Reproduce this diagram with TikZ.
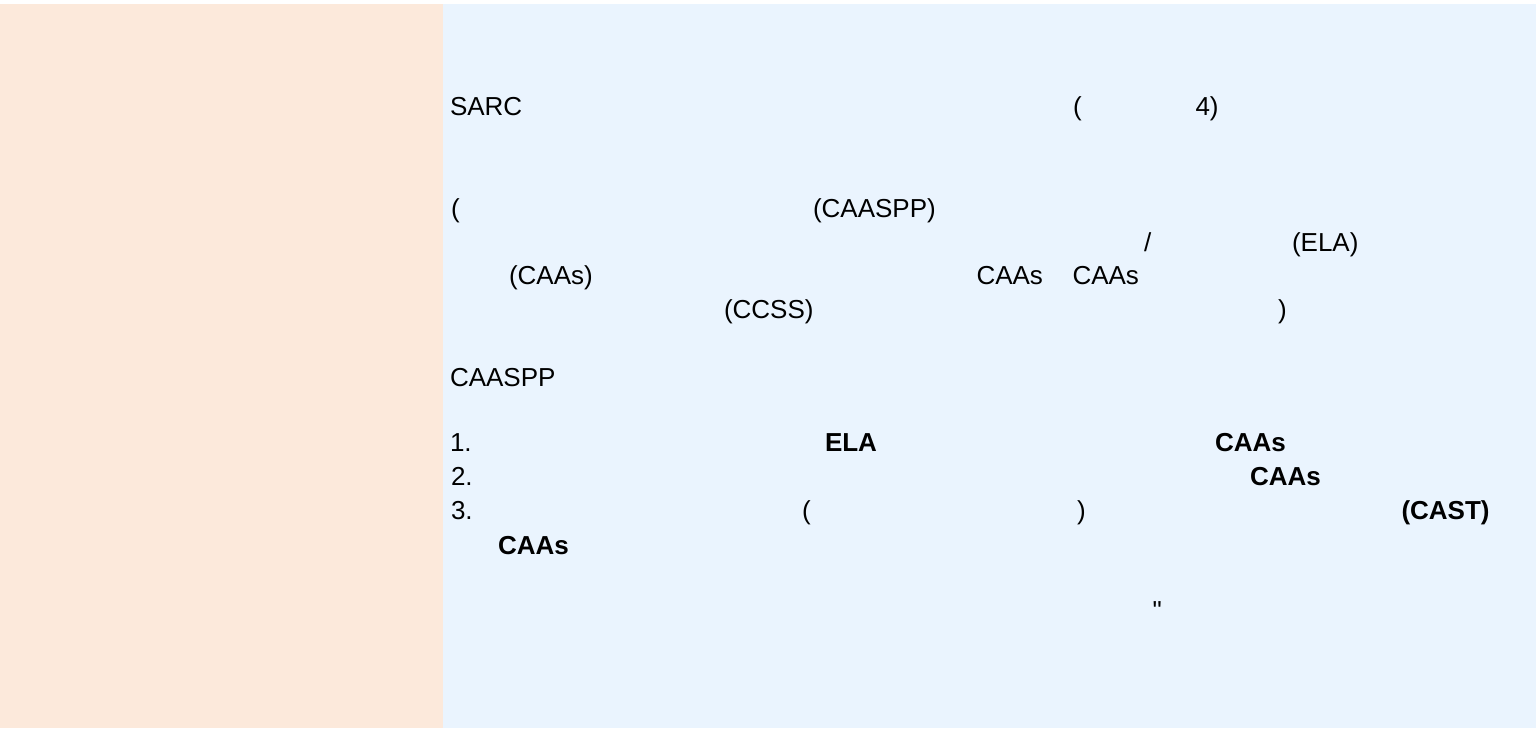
\documentclass[tikz,border=0pt]{standalone}
\usepackage{fontspec}
\setmainfont{Liberation Sans}
\newfontfamily\rawfont{Liberation Sans}
\definecolor{peach}{HTML}{FCE9DB}
\definecolor{paleblue}{HTML}{EAF4FE}
\tikzset{
  txt/.style={anchor=base west, inner sep=0pt, outer sep=0pt, font=\fontsize{26}{30}\selectfont},
  btxt/.style={txt, font=\fontsize{26}{30}\selectfont\bfseries}
}
\begin{document}
\begin{tikzpicture}[x=1pt,y=-1pt]
\useasboundingbox (0,0) rectangle (1536,728);
\fill[white] (0,0) rectangle (1536,728);
\fill[peach] (0,4) rectangle (443,728);
\fill[paleblue] (443,4) rectangle (1536,728);
% paragraph 1
\node[txt] (t1) at (450,115.5) {SARC};
\node[txt] (t2) at (1073,115.5) {(};
\node[txt] (t3) at (1195.5,115.5) {4)};
% paragraph 2
\node[txt] (t4) at (451,217) {(};
\node[txt] (t5) at (813,217) {(CAASPP)};
\node[txt] (t6) at (1144,251) {/};
\node[txt] (t7) at (1292,251) {(ELA)};
\node[txt] (t8) at (509,284.5) {(CAAs)};
\node[txt] (t9) at (976.5,284.5) {CAAs};
\node[txt] (t10) at (1072.5,284.5) {CAAs};
\node[txt] (t11) at (724,318) {(CCSS)};
\node[txt] (t12) at (1278,318) {)};
% paragraph 3
\node[txt] (t13) at (450,386) {CAASPP};
% list
\node[txt] (l1) at (450,451.5) {1.};
\node[btxt] (l1a) at (825,451.5) {ELA};
\node[btxt] (l1b) at (1215,451.5) {CAAs};
\node[txt] (l2) at (451,485) {2.};
\node[btxt] (l2a) at (1250,485) {CAAs};
\node[txt] (l3) at (451,519) {3.};
\node[txt] (l3a) at (802,519) {(};
\node[txt] (l3b) at (1077,519) {)};
\node[btxt] (l3c) at (1401.5,519) {(CAST)};
\node[btxt] (l3d) at (498,554) {CAAs};
% closing
\node[txt] (q) at (1152.5,619.5) {\rawfont"};
\end{tikzpicture}
\end{document}
